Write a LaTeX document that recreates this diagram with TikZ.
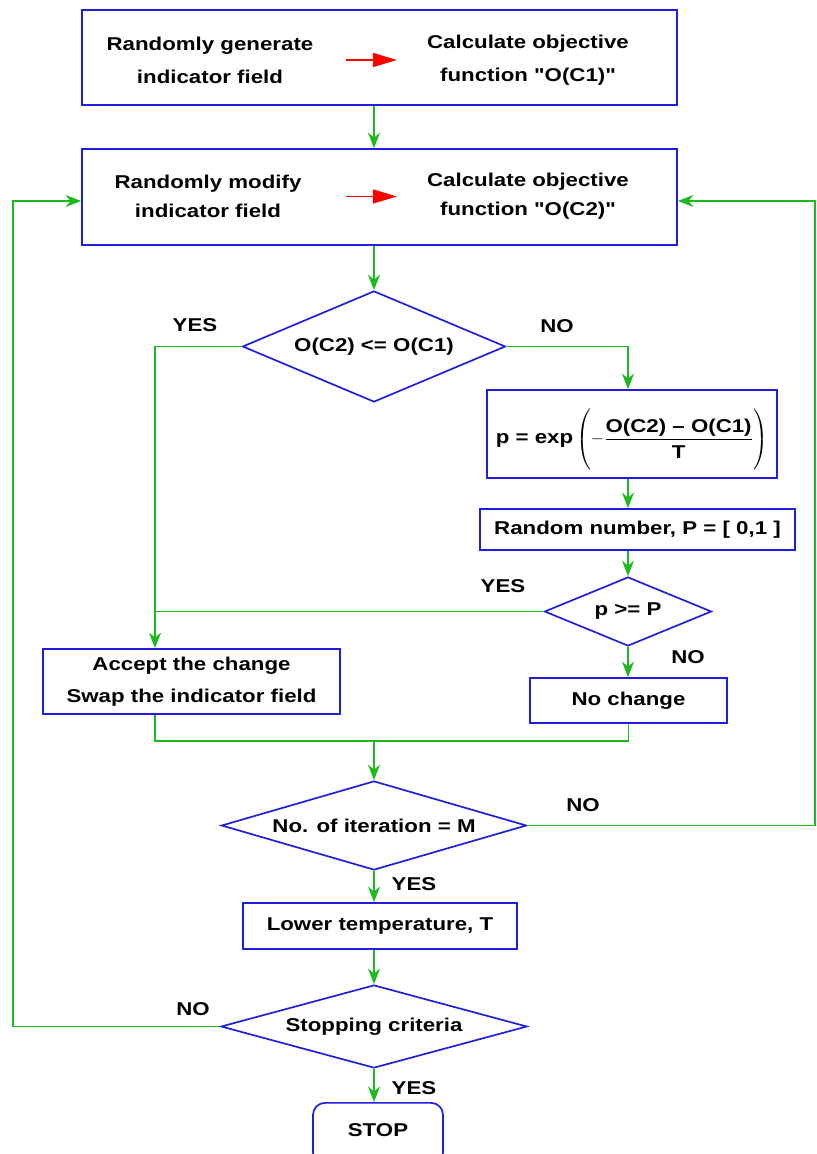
\documentclass[tikz,border=0pt]{standalone}
\usepackage{amsmath}
\usepackage{fontspec}
\setmainfont{Liberation Sans}[FakeStretch=1.2,Ligatures=TeXOff]
\usetikzlibrary{shapes.geometric,arrows.meta}

\definecolor{flowgreen}{RGB}{30,185,30}
\definecolor{boxblue}{RGB}{30,30,220}

\begin{document}
\begin{tikzpicture}[x=0.025cm,y=-0.025cm,
    font=\fontsize{13.2}{16}\selectfont\bfseries,
    box/.style={draw=boxblue,line width=1.2pt,rectangle,inner sep=0pt,align=center},
    cond/.style={draw=boxblue,line width=1.2pt,diamond,inner sep=0pt},
    txt/.style={inner sep=0pt,align=center},
    flow/.style={draw=flowgreen,line width=1.3pt,-{Stealth[length=11pt,width=8.5pt,inset=3.5pt]}},
    link/.style={draw=flowgreen,line width=1.3pt},
    redarrow/.style={draw=red,line width=1pt,-{Triangle[length=17pt,width=10pt]}}]
  \useasboundingbox (0,0) rectangle (816,1154);
  % start
  \node[box,minimum width=14.875cm,minimum height=2.375cm] at (379.5,57.5) (box1) {};
  \node[txt] at (210,60) (gen1) {Randomly generate\\[7.4pt]indicator field};
  \node[txt] at (528,60) (obj1) {Calculate objective\\[7.4pt]function "O(C1)"};
  \draw[redarrow,shorten <=0.8cm,shorten >=0.75cm] (gen1.east) -- (obj1.west);
  % modify
  \node[box,minimum width=14.875cm,minimum height=2.4cm] at (379.5,197) (box2) {};
  \node[txt] at (208,196.5) (gen2) {Randomly modify\\[4.6pt]indicator field};
  \node[txt] at (528,196.5) (obj2) {Calculate objective\\[4.6pt]function "O(C2)"};
  \draw[redarrow,shorten <=1.1cm,shorten >=0.75cm] (gen2.east) -- (obj2.west);
  % compare
  \node[cond,aspect=2.37,minimum width=6.575cm,minimum height=2.775cm] at (374,346.5) (d1) {O(C2) <= O(C1)};
  \node[box,minimum width=7.25cm,minimum height=2.2cm] at (632,434) (prob)
    {\raisebox{-6.8pt}[0pt][0pt]{$\text{p = exp}\left(-\dfrac{\text{O(C2) – O(C1)}}{\text{T}\rule{0pt}{12pt}}\vcenter{\hbox{\rule{0pt}{42pt}}}\right)$}};
  \node[box,minimum width=7.875cm,minimum height=1.025cm] at (637.5,529.5) (rand) {Random number, P = [ 0,1 ]};
  \node[cond,aspect=2.42,minimum width=4.175cm,minimum height=1.725cm] at (628,611.5) (d2) {p >= P};
  \node[box,minimum width=7.425cm,minimum height=1.625cm] at (191.5,681.5) (accept)
    {Accept the change\\[6.7pt]Swap the indicator field};
  \node[box,minimum width=4.925cm,minimum height=1.125cm] at (628.5,700.5) (nochange) {No change};
  % iteration and cooling
  \node[cond,aspect=3.43,minimum width=7.625cm,minimum height=2.225cm] at (374,825.5) (d3) {No. of iteration = M};
  \node[box,minimum width=6.85cm,minimum height=1.15cm] at (380,926) (lower) {Lower temperature, T};
  \node[cond,aspect=3.69,minimum width=7.65cm,minimum height=2.075cm] at (374,1026.5) (d4) {Stopping criteria};
  \node[box,rounded corners=0.3cm,minimum width=3.25cm,minimum height=1.55cm,anchor=north] at (378,1102) (stop) {\raisebox{6pt}{STOP}};
  % answers
  \node[txt] at (195,325) (yes1) {YES};
  \node[txt] at (557,326) (no1) {NO};
  \node[txt] at (503,586) (yes2) {YES};
  \node[txt] at (688,657) (no2) {NO};
  \node[txt] at (583,805) (no3) {NO};
  \node[txt] at (414,884) (yes3) {YES};
  \node[txt] at (193,1009) (no4) {NO};
  \node[txt] at (414,1088) (yes4) {YES};
  % main line
  \draw[flow] (box1.south -| d1.north) -- (box2.north -| d1.north);
  \draw[flow] (box2.south -| d1.north) -- (d1.north);
  \draw[flow] (d1.east) -| (prob.north -| d2.north);
  \draw[flow] (prob.south -| d2.north) -- (rand.north -| d2.north);
  \draw[flow] (rand.south -| d2.north) -- (d2.north);
  \draw[flow] (d2.south) -- (nochange.north -| d2.south);
  % yes branches
  \coordinate (yes) at (155,346.5);
  \draw[flow] (d1.west) -| (yes |- accept.north);
  \draw[link] (d2.west) -- (d2.west -| yes);
  % merge
  \coordinate (merge) at (374,741);
  \draw[link] (accept.south -| yes) |- (merge) -| (nochange.south);
  \draw[flow] (merge) -- (d3.north);
  \draw[flow] (d3.south) -- (lower.north -| d3.south);
  \draw[flow] (lower.south -| d4.north) -- (d4.north);
  \draw[flow] (d4.south) -- (stop.north -| d4.south);
  % loops back
  \coordinate (rloop) at (815,201);
  \draw[flow] (d3.east) -| (rloop) -- (rloop -| box2.east);
  \coordinate (lloop) at (13,201);
  \draw[flow] (d4.west) -| (lloop) -- (lloop -| box2.west);
\end{tikzpicture}
\end{document}
